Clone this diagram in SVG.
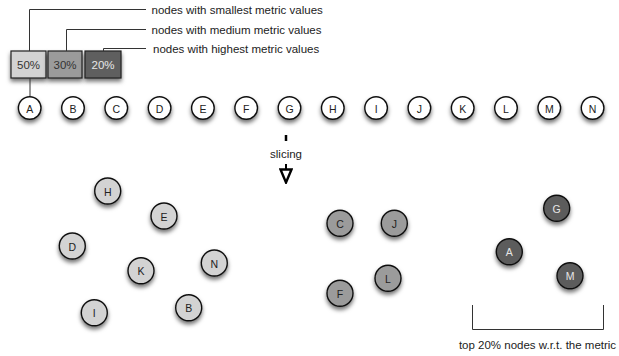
<svg xmlns="http://www.w3.org/2000/svg" width="619" height="356" viewBox="0 0 619 356">
  <defs>
    <filter id="shadow" x="-50%" y="-50%" width="200%" height="220%">
      <feDropShadow dx="0" dy="3" stdDeviation="2.2" flood-color="#000" flood-opacity="0.55"/>
    </filter>
    <marker id="openTri" viewBox="0 0 16 14" refX="15" refY="7" markerWidth="16" markerHeight="14" markerUnits="userSpaceOnUse" orient="auto">
      <path d="M1.5,1.5 L14.5,7 L1.5,12.5 Z" fill="#fff" stroke="#000" stroke-width="2.4" stroke-linejoin="miter"/>
    </marker>
  </defs>
  <style>
    text { font-family: "Liberation Sans", Arial, sans-serif; }
    .lbl { font-size: 11.5px; fill: #222; }
    .bt { font-size: 11.5px; text-anchor: middle; dominant-baseline: central; fill: #333; }
    .bt-d { font-size: 11.5px; text-anchor: middle; dominant-baseline: central; fill: #e6e6e6; }
    .nt { font-size: 10.5px; text-anchor: middle; dominant-baseline: central; fill: #222; }
    .nt-d { font-size: 10.5px; text-anchor: middle; dominant-baseline: central; fill: #e6e6e6; }
    .n { stroke: #111; stroke-width: 1.4; filter: url(#shadow); }
    .w { fill: #fff; }
    .l { fill: #d3d3d3; }
    .m { fill: #9b9b9b; }
    .d { fill: #5c5c5c; }
    .box { stroke: #222; stroke-width: 1.2; filter: url(#shadow); }
    .lead { fill: none; stroke: #333; stroke-width: 1; }
  </style>

  <!-- legend bar -->
  <g id="legend">
    <rect class="box" x="11" y="51" width="35" height="27" fill="#d3d3d3"/>
    <rect class="box" x="48" y="51" width="34" height="27" fill="#9b9b9b"/>
    <rect class="box" x="85" y="51" width="36" height="27" fill="#5f5f5f"/>
    <text x="28.5" y="65" class="bt">50%</text>
    <text x="65" y="65" class="bt">30%</text>
    <text x="103" y="65" class="bt-d">20%</text>
  </g>

  <!-- connectors -->
  <g id="connectors">
    <polyline class="lead" points="29.5,51 29.5,9.5 146,9.5"/>
    <polyline class="lead" points="66.5,51 66.5,29.5 146,29.5"/>
    <polyline class="lead" points="103.5,51 103.5,48.5 146,48.5"/>
    <line class="lead" x1="30" y1="78" x2="30" y2="97"/>
    <line x1="286" y1="135" x2="286" y2="141" stroke="#000" stroke-width="2.5"/>
    <line x1="286" y1="164" x2="286" y2="183" stroke="#000" stroke-width="2" marker-end="url(#openTri)"/>
    <polyline class="lead" points="472.5,305 472.5,329.5 603.5,329.5 603.5,305"/>
  </g>

  <!-- captions -->
  <g id="captions">
    <text x="151.5" y="14" class="lbl">nodes with smallest metric values</text>
    <text x="151.5" y="33.5" class="lbl">nodes with medium metric values</text>
    <text x="153" y="52.5" class="lbl">nodes with highest metric values</text>
    <text x="286" y="158" class="lbl" text-anchor="middle">slicing</text>
    <text x="537.5" y="349" class="lbl" text-anchor="middle">top 20% nodes w.r.t. the metric</text>
  </g>

  <!-- full node row -->
  <g id="row-A"><circle class="n w" cx="29.7" cy="108" r="11.3"/><text class="nt" x="29.7" y="108.5">A</text></g>
  <g id="row-B"><circle class="n w" cx="73" cy="108" r="11.3"/><text class="nt" x="73" y="108.5">B</text></g>
  <g id="row-C"><circle class="n w" cx="116.3" cy="108" r="11.3"/><text class="nt" x="116.3" y="108.5">C</text></g>
  <g id="row-D"><circle class="n w" cx="159.6" cy="108" r="11.3"/><text class="nt" x="159.6" y="108.5">D</text></g>
  <g id="row-E"><circle class="n w" cx="202.9" cy="108" r="11.3"/><text class="nt" x="202.9" y="108.5">E</text></g>
  <g id="row-F"><circle class="n w" cx="246.2" cy="108" r="11.3"/><text class="nt" x="246.2" y="108.5">F</text></g>
  <g id="row-G"><circle class="n w" cx="289.5" cy="108" r="11.3"/><text class="nt" x="289.5" y="108.5">G</text></g>
  <g id="row-H"><circle class="n w" cx="332.8" cy="108" r="11.3"/><text class="nt" x="332.8" y="108.5">H</text></g>
  <g id="row-I"><circle class="n w" cx="376.1" cy="108" r="11.3"/><text class="nt" x="376.1" y="108.5">I</text></g>
  <g id="row-J"><circle class="n w" cx="419.4" cy="108" r="11.3"/><text class="nt" x="419.4" y="108.5">J</text></g>
  <g id="row-K"><circle class="n w" cx="462.7" cy="108" r="11.3"/><text class="nt" x="462.7" y="108.5">K</text></g>
  <g id="row-L"><circle class="n w" cx="506" cy="108" r="11.3"/><text class="nt" x="506" y="108.5">L</text></g>
  <g id="row-M"><circle class="n w" cx="549.3" cy="108" r="11.3"/><text class="nt" x="549.3" y="108.5">M</text></g>
  <g id="row-N"><circle class="n w" cx="592.6" cy="108" r="11.3"/><text class="nt" x="592.6" y="108.5">N</text></g>

  <!-- lowest 50% -->
  <g id="low-H"><circle class="n l" cx="107.7" cy="191" r="13"/><text class="nt" x="107.7" y="191.5">H</text></g>
  <g id="low-E"><circle class="n l" cx="164" cy="216" r="13"/><text class="nt" x="164" y="216.5">E</text></g>
  <g id="low-D"><circle class="n l" cx="72.3" cy="246" r="13"/><text class="nt" x="72.3" y="246.5">D</text></g>
  <g id="low-N"><circle class="n l" cx="214.3" cy="263" r="13"/><text class="nt" x="214.3" y="263.5">N</text></g>
  <g id="low-K"><circle class="n l" cx="141" cy="270.7" r="13"/><text class="nt" x="141" y="271.2">K</text></g>
  <g id="low-B"><circle class="n l" cx="188.7" cy="307.7" r="13"/><text class="nt" x="188.7" y="308.2">B</text></g>
  <g id="low-I"><circle class="n l" cx="94.3" cy="312.7" r="13"/><text class="nt" x="94.3" y="313.2">I</text></g>

  <!-- middle 30% -->
  <g id="mid-C"><circle class="n m" cx="340" cy="223.3" r="13"/><text class="nt" x="340" y="223.8">C</text></g>
  <g id="mid-J"><circle class="n m" cx="394.3" cy="223.3" r="13"/><text class="nt" x="394.3" y="223.8">J</text></g>
  <g id="mid-L"><circle class="n m" cx="388" cy="278.3" r="13"/><text class="nt" x="388" y="278.8">L</text></g>
  <g id="mid-F"><circle class="n m" cx="340" cy="293.3" r="13"/><text class="nt" x="340" y="293.8">F</text></g>

  <!-- top 20% -->
  <g id="top-G"><circle class="n d" cx="556.7" cy="208.3" r="13"/><text class="nt-d" x="556.7" y="208.8">G</text></g>
  <g id="top-A"><circle class="n d" cx="509.3" cy="251.7" r="13"/><text class="nt-d" x="509.3" y="252.2">A</text></g>
  <g id="top-M"><circle class="n d" cx="570" cy="275.7" r="13"/><text class="nt-d" x="570" y="276.2">M</text></g>
</svg>
